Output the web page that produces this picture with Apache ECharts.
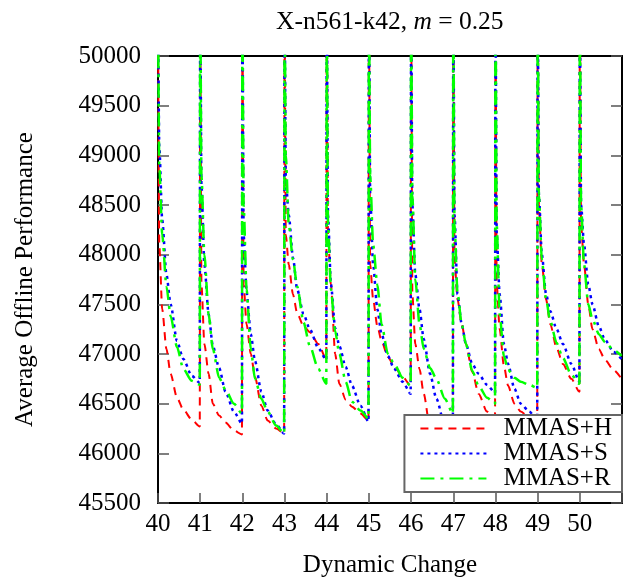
<!DOCTYPE html>
<html>
<head>
<meta charset="utf-8">
<script src="https://cdn.jsdelivr.net/npm/echarts@6/dist/echarts.min.js"></script>
<style>
html,body{margin:0;padding:0;background:#fff;}
#chart{width:628px;height:585px;}
</style>
</head>
<body>
<div id="chart"></div>
<script>
// Dynamic changes (start of each environment period)
const changes = [40, 41, 42, 43, 44, 45, 46, 47, 48, 49, 50];
// Position inside each period at which values were read
const phase = [0, 0.03, 0.1, 0.2, 0.3, 0.45, 0.6, 0.8, 0.99];
// Y tick labels
const yTicks = [45500, 46000, 46500, 47000, 47500, 48000, 48500, 49000, 49500, 50000];
const xTicks = [40, 41, 42, 43, 44, 45, 46, 47, 48, 49, 50];

// MMAS+H (one row per period, values at each phase)
const mmasH = [
  [50600, 48100, 47450, 47050, 46800, 46560, 46440, 46340, 46270],
  [50600, 47700, 47100, 46800, 46500, 46380, 46310, 46230, 46190],
  [50600, 47700, 47300, 47000, 46770, 46480, 46330, 46250, 46200],
  [50600, 48200, 47900, 47600, 47410, 47280, 47220, 47100, 46950],
  [50600, 48200, 47700, 47000, 46700, 46540, 46470, 46400, 46330],
  [50600, 47900, 47550, 47280, 47130, 46970, 46880, 46770, 46680],
  [50600, 47600, 47100, 46850, 46600, 46250, 46160, 46030, 45930],
  [50600, 47950, 47550, 47300, 47100, 46820, 46600, 46420, 46360],
  [50600, 47700, 47250, 46880, 46680, 46500, 46420, 46360, 46270],
  [50600, 48500, 47900, 47550, 47300, 47060, 46900, 46750, 46620],
  [50600, 48300, 47900, 47500, 47250, 47050, 46940, 46840, 46750]
];
// MMAS+S
const mmasS = [
  [50600, 49100, 48350, 47800, 47500, 47130, 46950, 46780, 46710],
  [50600, 48700, 47900, 47400, 47080, 46860, 46620, 46420, 46300],
  [50600, 48200, 47620, 47200, 46930, 46620, 46430, 46290, 46200],
  [50600, 48750, 48400, 47970, 47650, 47400, 47250, 47060, 46940],
  [50600, 48400, 47700, 47260, 47080, 46870, 46680, 46480, 46320],
  [50600, 48600, 47900, 47450, 47200, 46980, 46850, 46720, 46600],
  [50600, 48500, 47800, 47450, 47150, 46800, 46550, 46280, 46020],
  [50600, 48400, 47600, 47300, 47100, 46900, 46800, 46690, 46610],
  [50600, 48200, 47600, 47100, 46900, 46650, 46500, 46420, 46340],
  [50600, 48600, 48000, 47600, 47430, 47250, 47100, 46900, 46720],
  [50600, 48500, 48100, 47700, 47500, 47280, 47140, 47020, 46950]
];
// MMAS+R
const mmasR = [
  [50600, 48900, 48200, 47680, 47380, 47070, 46850, 46730, 46690],
  [50600, 48800, 48000, 47400, 47050, 46760, 46640, 46500, 46400],
  [50600, 48500, 47650, 47050, 46750, 46550, 46420, 46280, 46200],
  [50600, 49000, 48300, 47950, 47680, 47320, 47080, 46850, 46700],
  [50600, 48300, 47650, 47230, 47000, 46720, 46520, 46430, 46350],
  [50600, 48800, 48100, 47700, 47300, 47000, 46900, 46760, 46680],
  [50600, 48600, 47750, 47300, 47050, 46860, 46750, 46550, 46400],
  [50600, 48300, 47620, 47300, 47100, 46830, 46680, 46560, 46500],
  [50600, 48300, 47400, 46980, 46840, 46760, 46720, 46690, 46660],
  [50600, 48600, 47950, 47550, 47330, 47110, 46960, 46790, 46700],
  [50600, 48500, 47900, 47500, 47350, 47200, 47120, 47040, 46980]
];

function build(rows) {
  const out = [];
  rows.forEach((row, i) => {
    row.forEach((v, j) => out.push([changes[i] + phase[j], v]));
  });
  return out;
}

const FONT = 'Liberation Serif';
const chart = echarts.init(document.getElementById('chart'), null, {renderer: 'canvas'});

function mkSeries(name, rows, color, width, dash) {
  return {
    name: name,
    type: 'line',
    data: build(rows),
    showSymbol: false,
    symbol: 'none',
    smooth: 0.25,
    smoothMonotone: 'x',
    clip: true,
    animation: false,
    lineStyle: {color: color, width: width, type: dash},
    itemStyle: {color: color}
  };
}

chart.setOption({
  animation: false,
  backgroundColor: '#fff',
  title: {
    text: '{n|X-n561-k42, }{i|m}{n| = 0.25}',
    left: 271,
    top: 4,
    textStyle: {
      fontWeight: 'normal',
      rich: {
        n: {fontFamily: FONT, fontSize: 25.5, color: '#000', fontWeight: 'normal'},
        i: {fontFamily: FONT, fontSize: 25.5, color: '#000', fontStyle: 'italic', fontWeight: 'normal'}
      }
    }
  },
  grid: {left: 158, right: 6, top: 56, bottom: 82, containLabel: false},
  legend: {
    orient: 'vertical',
    right: 6,
    bottom: 93,
    backgroundColor: '#fff',
    borderColor: '#666',
    borderWidth: 2,
    borderRadius: 0,
    padding: [1, 10, 1, 15],
    itemWidth: 66,
    itemHeight: 25,
    itemGap: 0,
    itemStyle: {opacity: 0, borderWidth: 0},
    textStyle: {fontFamily: FONT, fontSize: 25, color: '#000', padding: [0, 0, 0, 12]},
    data: ['MMAS+H', 'MMAS+S', 'MMAS+R']
  },
  xAxis: [{
    type: 'value',
    min: 40,
    max: 51,
    interval: 1,
    name: 'Dynamic Change',
    nameLocation: 'middle',
    nameGap: 50,
    nameTextStyle: {fontFamily: FONT, fontSize: 25, color: '#000'},
    axisLine: {show: true, lineStyle: {color: '#000', width: 2}},
    axisTick: {show: true, inside: true, length: 10, lineStyle: {color: '#555', width: 1.5}},
    axisLabel: {
      fontFamily: FONT, fontSize: 25, color: '#000', margin: 9,
      formatter: v => (xTicks.indexOf(v) >= 0 ? String(v) : '')
    },
    splitLine: {show: false}
  }, {
    type: 'value',
    position: 'top',
    min: 40,
    max: 51,
    interval: 1,
    axisLine: {show: true, lineStyle: {color: '#000', width: 2}},
    axisTick: {show: false},
    axisLabel: {show: false},
    splitLine: {show: false}
  }],
  yAxis: [{
    type: 'value',
    min: 45500,
    max: 50000,
    interval: 500,
    name: 'Average Offline Performance',
    nameLocation: 'middle',
    nameGap: 120,
    nameTextStyle: {fontFamily: FONT, fontSize: 25, color: '#000'},
    axisLine: {show: true, lineStyle: {color: '#000', width: 2}},
    axisTick: {show: true, inside: true, length: 11, lineStyle: {color: '#555', width: 1.5}},
    axisLabel: {
      fontFamily: FONT, fontSize: 25, color: '#000', margin: 17,
      formatter: v => (yTicks.indexOf(v) >= 0 ? String(v) : '')
    },
    splitLine: {show: false}
  }, {
    type: 'value',
    position: 'right',
    min: 45500,
    max: 50000,
    interval: 500,
    axisLine: {show: true, lineStyle: {color: '#000', width: 2}},
    axisTick: {show: true, inside: true, length: 11, lineStyle: {color: '#555', width: 1.5}},
    axisLabel: {show: false},
    splitLine: {show: false}
  }],
  series: [
    mkSeries('MMAS+H', mmasH, '#ff0000', 2, [8, 6]),
    mkSeries('MMAS+S', mmasS, '#0000ff', 2.5, [3, 4]),
    mkSeries('MMAS+R', mmasR, '#00ff00', 2.5, [14, 6, 3, 6])
  ]
});
</script>
</body>
</html>
